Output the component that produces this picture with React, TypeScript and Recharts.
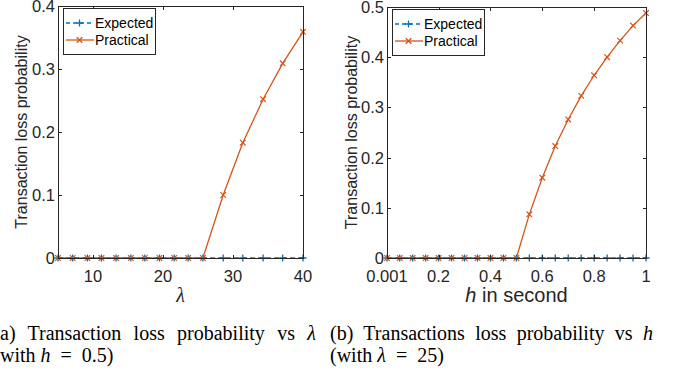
import React from 'react';
import { LineChart, Line, XAxis, YAxis, Label } from 'recharts';

// (a) loss probability vs lambda, h = 0.5
const lambdaValues = [5, 7.1, 9.2, 11.2, 13.3, 15.4, 17.4, 19.5, 21.6, 23.6, 25.7, 28.6, 31.4, 34.3, 37.1, 40];
const expectedVsLambda = [0, 0, 0, 0, 0, 0, 0, 0, 0, 0, 0, 0, 0, 0, 0, 0];
const practicalVsLambda = [0, 0, 0, 0, 0, 0, 0, 0, 0, 0, 0, 0.1, 0.183, 0.252, 0.309, 0.359];
const lambdaTicks = [10, 20, 30, 40];
const lossTicksA = [0, 0.1, 0.2, 0.3, 0.4];

// (b) loss probability vs h, lambda = 25
const hValues = [0.001, 0.05, 0.1, 0.15, 0.2, 0.25, 0.3, 0.35, 0.4, 0.45, 0.5, 0.55, 0.6, 0.65, 0.7, 0.75, 0.8, 0.85, 0.9, 0.95, 1];
const expectedVsH = [0, 0, 0, 0, 0, 0, 0, 0, 0, 0, 0, 0, 0, 0, 0, 0, 0, 0, 0, 0, 0];
const practicalVsH = [0, 0, 0, 0, 0, 0, 0, 0, 0, 0, 0, 0.087, 0.16, 0.223, 0.276, 0.323, 0.364, 0.4, 0.433, 0.463, 0.488];
const hTicks = [0.001, 0.2, 0.4, 0.6, 0.8, 1];
const lossTicksB = [0, 0.1, 0.2, 0.3, 0.4, 0.5];

const seriesNames = ['Expected', 'Practical'];

const BLUE = '#0072BD';
const ORANGE = '#D95319';
const AXIS = '#262626';
const SANS = '"Liberation Sans", Arial, Helvetica, sans-serif';
const SERIF = '"Liberation Serif", "Times New Roman", serif';
const CHART_H = 310;
const X_AXIS_H = 52;

const dataA = lambdaValues.map((x, i) => ({ x, expected: expectedVsLambda[i], practical: practicalVsLambda[i] }));
const dataB = hValues.map((x, i) => ({ x, expected: expectedVsH[i], practical: practicalVsH[i] }));

const plusPath = (cx: number, cy: number, r: number) => `M${cx - r},${cy}H${cx + r}M${cx},${cy - r}V${cy + r}`;
const crossPath = (cx: number, cy: number, r: number) =>
  `M${cx - r},${cy - r}L${cx + r},${cy + r}M${cx - r},${cy + r}L${cx + r},${cy - r}`;

const plusDot = (p: any) =>
  p.cx == null ? null : <path key={`p${p.index}`} d={plusPath(p.cx, p.cy, 3.5)} stroke={BLUE} strokeWidth={1.3} fill="none" />;
const crossDot = (p: any) =>
  p.cx == null ? null : <path key={`c${p.index}`} d={crossPath(p.cx, p.cy, 2.8)} stroke={ORANGE} strokeWidth={1.2} fill="none" />;

const BottomTick = (p: any) => (
  <text x={p.x} y={p.y + 10} textAnchor="middle" dominantBaseline="central" fontSize={16.5} fill={AXIS} fontFamily={SANS}>
    {p.payload.value}
  </text>
);
const LeftTick = (p: any) => (
  <text x={p.x + 5} y={p.y} textAnchor="end" dominantBaseline="central" fontSize={16.5} fill={AXIS} fontFamily={SANS}>
    {p.payload.value}
  </text>
);

const LegendBox = ({ left, top }: { left: number; top: number }) => (
  <div
    style={{
      position: 'absolute',
      left,
      top,
      width: 91,
      height: 40,
      border: `1px solid ${AXIS}`,
      background: '#fff',
      fontFamily: SANS,
      fontSize: 14,
      color: '#000',
      paddingTop: 5,
      boxSizing: 'content-box',
    }}
  >
    {seriesNames.map((name, i) => {
      const color = i === 0 ? BLUE : ORANGE;
      return (
        <div key={name} style={{ display: 'flex', alignItems: 'center', height: 17 }}>
          <svg width={28} height={16} style={{ marginLeft: 2, marginRight: 1 }}>
            <path d="M0,8H28" stroke={color} strokeWidth={1.3} strokeDasharray={i === 0 ? '4 3' : undefined} />
            <path d={i === 0 ? plusPath(13.5, 8, 3.5) : crossPath(13.5, 8, 2.8)} stroke={color} strokeWidth={1.3} fill="none" />
          </svg>
          <span>{name}</span>
        </div>
      );
    })}
  </div>
);

// MATLAB-style box around the plot area, with inward tick marks on all four sides
type BoxProps = { left: number; top: number; width: number; height: number; xDomain: number[]; xTicks: number[]; yDomain: number[]; yTicks: number[] };
const PlotBox = ({ left, top, width, height, xDomain, xTicks, yDomain, yTicks }: BoxProps) => {
  const tx = (t: number) => Math.round(((t - xDomain[0]) / (xDomain[1] - xDomain[0])) * (width - 1));
  const ty = (t: number) => Math.round(((yDomain[1] - t) / (yDomain[1] - yDomain[0])) * (height - 1));
  const mark = (style: React.CSSProperties, key: string) => (
    <div key={key} style={{ position: 'absolute', background: AXIS, ...style }} />
  );
  return (
    <div style={{ position: 'absolute', left, top, width, height, boxSizing: 'border-box', border: `1px solid ${AXIS}`, pointerEvents: 'none' }}>
      {xTicks.map((t) => [
        mark({ left: tx(t) - 1, top: -1, width: 1, height: 4 }, `xt${t}`),
        mark({ left: tx(t) - 1, bottom: -1, width: 1, height: 4 }, `xb${t}`),
      ])}
      {yTicks.map((t) => [
        mark({ top: ty(t) - 1, left: -1, width: 4, height: 1 }, `yl${t}`),
        mark({ top: ty(t) - 1, right: -1, width: 4, height: 1 }, `yr${t}`),
      ])}
    </div>
  );
};

const yLabel = (p: any) => {
  const vb = p.viewBox;
  const cx = vb.x + 21.5;
  const cy = vb.y + vb.height / 2;
  return (
    <text x={cx} y={cy} transform={`rotate(-90 ${cx} ${cy})`} textAnchor="middle" dominantBaseline="central" fontSize={16} fill={AXIS} fontFamily={SANS}>
      Transaction loss probability
    </text>
  );
};

type PanelProps = {
  data: any[];
  width: number;
  margin: { top: number; right: number; left: number; bottom: number };
  yWidth: number;
  xDomain: [number, number];
  xTicks: number[];
  yDomain: [number, number];
  yTicks: number[];
  xText: React.ReactNode;
  xFont: string;
  xItalic: boolean;
};

const Panel = ({ data, width, margin, yWidth, xDomain, xTicks, yDomain, yTicks, xText, xFont, xItalic }: PanelProps) => {
  const xLabel = (p: any) => {
    const vb = p.viewBox;
    return (
      <text x={vb.x + vb.width / 2} y={vb.y + 37} textAnchor="middle" dominantBaseline="central" fontSize={20} fontStyle={xItalic ? 'italic' : 'normal'} fill={AXIS} fontFamily={xFont}>
        {xText}
      </text>
    );
  };
  const plotLeft = margin.left + yWidth;
  const plotWidth = width - margin.right - plotLeft;
  const plotHeight = CHART_H - X_AXIS_H - margin.top;
  return (
    <div style={{ position: 'relative', width, height: CHART_H }}>
      <LineChart width={width} height={CHART_H} data={data} margin={margin}>
        <XAxis dataKey="x" type="number" domain={xDomain} ticks={xTicks} interval={0} height={X_AXIS_H} axisLine={false} tickLine={false} tick={BottomTick}>
          <Label content={xLabel} />
        </XAxis>
        <YAxis type="number" domain={yDomain} ticks={yTicks} interval={0} width={yWidth} axisLine={false} tickLine={false} tick={LeftTick}>
          <Label content={yLabel} />
        </YAxis>
        <Line dataKey="expected" name={seriesNames[0]} stroke={BLUE} strokeWidth={1.3} strokeDasharray="5 3" dot={plusDot} activeDot={false} isAnimationActive={false} />
        <Line dataKey="practical" name={seriesNames[1]} stroke={ORANGE} strokeWidth={1.3} dot={crossDot} activeDot={false} isAnimationActive={false} />
      </LineChart>
      <PlotBox left={plotLeft} top={margin.top} width={plotWidth + 1} height={plotHeight + 1} xDomain={xDomain} xTicks={xTicks} yDomain={yDomain} yTicks={yTicks} />
      <LegendBox left={plotLeft + 5} top={margin.top + 2} />
    </div>
  );
};

const capLine: React.CSSProperties = {
  position: 'absolute',
  fontFamily: SERIF,
  fontSize: 20,
  lineHeight: '22px',
  whiteSpace: 'nowrap',
  color: '#000',
};

export default function App() {
  return (
    <div style={{ position: 'absolute', left: 0, top: 0, width: 673, height: 371, background: '#fff', overflow: 'hidden' }}>
      <div style={{ position: 'absolute', left: 0, top: 0 }}>
        <Panel
          data={dataA}
          width={340}
          margin={{ top: 6, right: 37, left: 0, bottom: 0 }}
          yWidth={58}
          xDomain={[5, 40]}
          xTicks={lambdaTicks}
          yDomain={[0, 0.4]}
          yTicks={lossTicksA}
          xText="λ"
          xFont={SERIF}
          xItalic
        />
      </div>
      <div style={{ position: 'absolute', left: 330, top: 0 }}>
        <Panel
          data={dataB}
          width={343}
          margin={{ top: 7, right: 27, left: 0, bottom: 0 }}
          yWidth={57}
          xDomain={[0.001, 1]}
          xTicks={hTicks}
          yDomain={[0, 0.5]}
          yTicks={lossTicksB}
          xText={<><tspan fontStyle="italic">h</tspan> in second</>}
          xFont={SANS}
          xItalic={false}
        />
      </div>
      <div style={{ ...capLine, left: 0, top: 322, width: 316, textAlign: 'justify', textAlignLast: 'justify', whiteSpace: 'normal' }}>
        a) Transaction loss probability vs <i>λ</i>
      </div>
      <div style={{ ...capLine, left: 0, top: 344 }}>
        with <i>h</i>{'\u2002=\u2002'}0.5)
      </div>
      <div style={{ ...capLine, left: 330, top: 322, width: 323, textAlign: 'justify', textAlignLast: 'justify', whiteSpace: 'normal' }}>
        (b) Transactions loss probability vs <i>h</i>
      </div>
      <div style={{ ...capLine, left: 330, top: 344 }}>
        (with <i>λ</i>{'\u2002=\u2002'}25)
      </div>
    </div>
  );
}
